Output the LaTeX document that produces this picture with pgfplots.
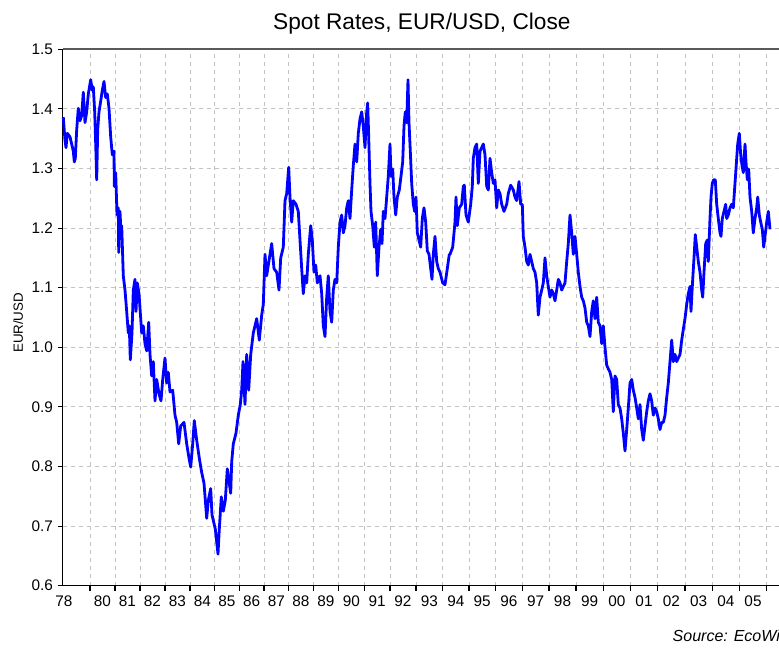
\documentclass[border=0pt]{standalone}
\usepackage{fontspec}
\setmainfont{Liberation Sans}
\usepackage{pgfplots}
\pgfplotsset{compat=1.18}
\definecolor{gridgray}{RGB}{195,195,195}
\definecolor{topgray}{RGB}{90,90,90}
\begin{document}
\begin{tikzpicture}
\begin{axis}[
  x=0.75pt, y=447pt,
  xmin=62.7, xmax=781, ymin=0.6, ymax=1.5,
  clip=false,
  axis line style={black, line width=0.9pt},
  tick align=outside,
  xtick pos=left, ytick pos=left,
  major tick length=3.75pt,
  tick style={black, line width=0.8pt},
  xtick={90,115,140,165,190,214.5,239.3,264,288.8,313.3,338.8,364.3,390,416,442.5,469,495.3,522.3,549,576,603.3,630.5,657.5,685,712.2,739.5,766.5},
  xticklabels={},
  extra x ticks={64,102.5,127.5,152.5,177.5,202.3,226.9,251.7,276.4,301,326,351.5,377.2,403,429.3,455.8,482.2,508.8,535.7,562.5,589.7,616.9,644,671.3,698.6,725.9,753},
  extra x tick labels={78,80,81,82,83,84,85,86,87,88,89,90,91,92,93,94,95,96,97,98,99,00,01,02,03,04,05},
  extra x tick style={grid=none, major tick length=0pt, tick style={draw=none}},
  ytick={0.6,0.7,0.8,0.9,1.0,1.1,1.2,1.3,1.4,1.5},
  yticklabel={\pgfmathprintnumber[fixed,fixed zerofill,precision=1]{\tick}},
  /pgf/number format/assume math mode=true,
  xticklabel style={font=\fontsize{11.5}{13}\selectfont, yshift=-3.75pt},
  yticklabel style={font=\fontsize{11.5}{13}\selectfont},
  grid=major,
  major grid style={gridgray, line width=0.7pt, dash pattern=on 3pt off 3pt},
  ylabel={EUR/USD},
  ylabel style={font=\fontsize{10}{12}\selectfont, at={(axis description cs:-0.0622,0.49)}, anchor=center, rotate=0},
  title={Spot Rates, EUR/USD, Close},
  title style={font=\fontsize{17}{20}\selectfont, at={(axis description cs:0.5,1)}, anchor=center, yshift=13pt},
]
\addplot[color={rgb,255:red,0;green,0;blue,255}, line width=2.1pt, line join=round] coordinates {
(63.3,1.386) (65,1.347) (66,1.335) (67.3,1.359) (70,1.353) (71.7,1.341) (73.3,1.329) (74.3,1.311) (75.3,1.317) (76.7,1.365) (78.3,1.401) (80,1.380) (81.7,1.389) (83.3,1.428) (85,1.377) (86.7,1.395) (88.3,1.425) (90.7,1.449) (92.3,1.431) (93.3,1.437) (94.7,1.395) (95.7,1.341) (96.7,1.281) (97.7,1.365) (99,1.395) (100.7,1.413) (102.3,1.431) (104,1.446) (105.7,1.419) (107.3,1.425) (109,1.401) (110.7,1.353) (112.3,1.323) (114,1.329) (114.3,1.270) (115.7,1.293) (117,1.222) (118.3,1.234) (118.7,1.159) (120,1.228) (121,1.192) (121.7,1.204) (123.3,1.120) (125,1.096) (126.7,1.060) (128.3,1.024) (129.3,1.036) (130.3,0.979) (132,1.024) (133.3,1.096) (135,1.114) (136,1.060) (137.3,1.108) (139,1.090) (141.7,1.024) (143.3,1.036) (145,1.006) (146.7,0.994) (148.7,1.042) (150,0.988) (151.7,0.952) (153.3,0.976) (155,0.910) (156.7,0.946) (159,0.922) (161,0.910) (162.7,0.946) (165,0.982) (166.7,0.940) (168.3,0.958) (170,0.925) (172.7,0.928) (175,0.886) (176.7,0.874) (178.7,0.838) (180.7,0.868) (184,0.874) (186.7,0.838) (189,0.814) (190.7,0.799) (192.7,0.838) (194.3,0.877) (196.7,0.844) (199.3,0.814) (201.7,0.790) (204,0.772) (206.7,0.713) (208.3,0.743) (210.7,0.763) (212,0.719) (215.3,0.695) (218,0.653) (219.3,0.695) (221.3,0.749) (223.3,0.725) (225.3,0.743) (227.3,0.796) (230.7,0.755) (231.7,0.808) (233.3,0.838) (236,0.856) (238.3,0.886) (240.3,0.904) (241.7,0.928) (243,0.976) (245,0.904) (246.7,0.988) (248.7,0.928) (250.7,0.988) (253.3,1.024) (256.7,1.048) (259.3,1.012)
(261.7,1.054) (263.3,1.072) (265,1.156) (266.7,1.120) (268.3,1.138) (271.7,1.174) (274,1.132) (276.7,1.126) (279,1.096) (280.7,1.150) (283.3,1.168) (285,1.246) (286.7,1.258) (288.7,1.302) (290,1.252) (291.7,1.210) (293.3,1.246) (296,1.240) (298.3,1.228) (300,1.180) (301.7,1.132) (303.3,1.090) (305,1.120) (306.7,1.108) (308.3,1.156) (310.7,1.204) (312.3,1.180) (314,1.126) (315.7,1.138) (317.3,1.108) (320,1.120) (321.7,1.090) (323.3,1.036) (325,1.018) (326.7,1.084) (328.3,1.120) (330,1.060) (331.7,1.042) (333.3,1.096) (335,1.114) (336.7,1.108) (338.3,1.168) (340,1.210) (341.7,1.222) (343.3,1.192) (345,1.204) (346.7,1.234) (348.3,1.246) (350,1.216) (351.7,1.264) (353.3,1.305) (355,1.341) (356.7,1.311) (358.3,1.359) (360,1.383) (361.7,1.395) (363.3,1.371) (365,1.335) (366.7,1.395) (367.7,1.410) (369,1.335) (370,1.275) (371,1.228) (372.7,1.204) (374.3,1.168) (375.7,1.210) (377.3,1.120) (379,1.168) (380.7,1.198) (382,1.174) (383.3,1.228) (385,1.216) (386.7,1.252) (388.3,1.287) (390,1.341) (391,1.287) (392.7,1.299) (394,1.252) (395.7,1.222) (397.3,1.252) (399.3,1.264) (401,1.287) (402.7,1.311) (404,1.371) (405.3,1.395) (406.7,1.377) (408,1.449) (409,1.377) (410.3,1.329) (411.7,1.275) (413.3,1.240) (414.7,1.228) (416,1.252) (417.3,1.192) (419,1.180) (420.7,1.168) (422.3,1.216) (424,1.234) (425.7,1.210) (427.3,1.162) (429,1.156) (430.7,1.132) (432,1.114) (433.3,1.156) (435,1.186) (436.7,1.144) (438.3,1.132) (440,1.126) (442.7,1.108) (445,1.105) (447.3,1.132) (449.3,1.156)
(450,1.156) (452.7,1.168) (455,1.210) (456,1.252) (457.3,1.204) (459.3,1.234) (461.7,1.240) (463.3,1.270) (464.3,1.272) (466,1.222) (468.3,1.210) (470.7,1.240) (472.3,1.270) (473.3,1.317) (475,1.335) (476.7,1.341) (478.3,1.275) (480,1.329) (481.7,1.335) (483.3,1.341) (485,1.323) (486.7,1.270) (488.3,1.264) (490,1.317) (491.7,1.293) (493.3,1.275) (495,1.281) (496.7,1.234) (498.3,1.264) (500,1.258) (501.7,1.240) (504,1.228) (506.7,1.240) (508.3,1.258) (510.7,1.272) (513.3,1.264) (515,1.252) (516.7,1.246) (519,1.278) (520.7,1.240) (522.3,1.240) (523.3,1.186) (525,1.168) (526.7,1.144) (528.3,1.138) (530,1.156) (531.7,1.144) (533.3,1.132) (535,1.126) (536.7,1.108) (538.3,1.054) (540,1.084) (541.7,1.096) (543.3,1.108) (545,1.150) (546.7,1.120) (548.3,1.102) (550,1.084) (551.7,1.096) (553.3,1.090) (555,1.078) (556.7,1.096) (558.3,1.114) (560,1.108) (561.7,1.096) (563.3,1.102) (565,1.108) (566.7,1.144) (568.3,1.174) (570,1.222) (571.7,1.192) (573.3,1.156) (575,1.186) (576.7,1.156) (578.3,1.126) (580,1.102) (581.7,1.084) (583.3,1.078) (585,1.066) (586.7,1.042) (588.3,1.036) (590,1.018) (591.7,1.060) (593.3,1.078) (595,1.048) (596.7,1.084) (598.3,1.042) (600,1.036) (601.7,1.006) (603.3,1.036) (605,1.000) (606.7,0.970) (608.3,0.964) (610,0.958) (611.7,0.946) (613.3,0.892) (615,0.952) (616.7,0.946) (618.3,0.904) (620,0.898) (621.7,0.880) (623.3,0.856) (625,0.826) (626.7,0.862) (628.3,0.898) (630,0.940) (631.7,0.946) (633.3,0.928) (635,0.916) (636.7,0.898) (638.3,0.880) (640,0.904)
(641.7,0.862) (643.3,0.844) (645,0.868) (646.7,0.892) (648.3,0.910) (650,0.922) (651.7,0.910) (653.3,0.886) (655,0.898) (656.7,0.892) (658.3,0.880) (660,0.862) (661.7,0.874) (663.3,0.874) (665,0.886) (666.7,0.916) (668.3,0.940) (670,0.976) (671.7,1.012) (673.3,0.976) (675,0.988) (676.7,0.976) (678.3,0.982) (680,0.988) (681.7,1.012) (683.3,1.030) (685,1.048) (686.7,1.072) (688.3,1.090) (690,1.102) (691,1.060) (692.3,1.102) (694,1.150) (695.3,1.189) (696.7,1.168) (698.3,1.144) (700,1.126) (701.7,1.096) (702.7,1.084) (704,1.126) (705.7,1.174) (707.3,1.180) (708.3,1.144) (710,1.216) (711,1.252) (712.3,1.275) (713.7,1.281) (715.3,1.281) (716.7,1.240) (718.3,1.216) (720,1.192) (721,1.186) (722.3,1.216) (724,1.228) (725.7,1.240) (726.7,1.216) (728.3,1.222) (730,1.234) (731.7,1.240) (733.3,1.234) (735,1.275) (736.7,1.317) (737.7,1.341) (739.3,1.359) (740.7,1.323) (742,1.305) (743.3,1.293) (745,1.341) (746,1.311) (747.3,1.281) (748.7,1.299) (750,1.252) (751.7,1.228) (753.3,1.192) (755,1.216) (756.7,1.234) (757.7,1.252) (759.3,1.222) (760.7,1.210) (762.3,1.198) (763.7,1.168) (765,1.186) (766.7,1.210) (768.3,1.228) (770,1.198)
};
\draw[topgray, line width=1.6pt] (axis cs:62.7,1.5) -- (axis cs:781,1.5);
\node[anchor=west, font=\fontsize{12}{14}\selectfont\itshape] at (axis cs:668,0.5156) {Source: EcoWin};
\coordinate (o) at (axis cs:62.7,0.6);
\end{axis}
\pgfresetboundingbox
\path[use as bounding box] (o) ++(-47.025pt,-47.475pt) rectangle ++(584.25pt,486.75pt);
\end{tikzpicture}
\end{document}
